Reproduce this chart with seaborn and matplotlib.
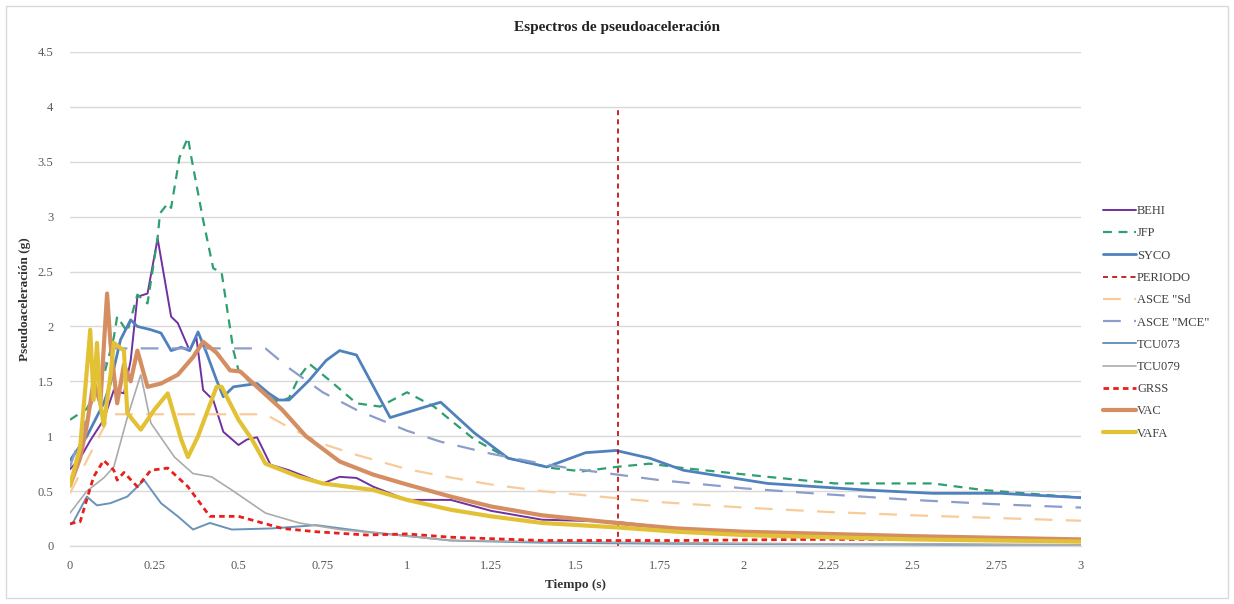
import matplotlib
matplotlib.use("Agg")
import matplotlib.pyplot as plt
import seaborn as sns
import numpy as np
from matplotlib.patches import Rectangle

# ---------------- data ----------------
BEHI_t = [0, 0.03, 0.06, 0.1, 0.13, 0.16, 0.18, 0.2, 0.23, 0.26, 0.3, 0.32, 0.355, 0.375, 0.395, 0.425, 0.455, 0.5, 0.525, 0.555, 0.595, 0.65, 0.75, 0.8, 0.85, 0.9, 1.0, 1.13, 1.25, 1.4, 1.62, 1.8, 2.0, 2.5, 3.0]
BEHI_v = [0.7, 0.8, 0.96, 1.15, 1.42, 1.39, 1.69, 2.27, 2.3, 2.8, 2.09, 2.03, 1.78, 1.9, 1.42, 1.33, 1.04, 0.92, 0.97, 0.99, 0.74, 0.69, 0.57, 0.63, 0.62, 0.54, 0.42, 0.42, 0.32, 0.24, 0.22, 0.16, 0.12, 0.07, 0.04]

JFP_t = [0, 0.05, 0.1, 0.13, 0.14, 0.17, 0.2, 0.23, 0.26, 0.267, 0.29, 0.30, 0.325, 0.35, 0.36, 0.395, 0.425, 0.45, 0.485, 0.5, 0.535, 0.59, 0.62, 0.65, 0.68, 0.71, 0.77, 0.85, 0.92, 1.0, 1.08, 1.2, 1.3, 1.43, 1.52, 1.62, 1.72, 1.82, 2.07, 2.27, 2.56, 2.71, 3.0]
JFP_v = [1.15, 1.25, 1.55, 1.9, 2.09, 1.95, 2.29, 2.21, 2.81, 3.03, 3.12, 3.08, 3.54, 3.72, 3.54, 2.97, 2.53, 2.49, 1.78, 1.6, 1.49, 1.36, 1.31, 1.35, 1.54, 1.66, 1.51, 1.30, 1.27, 1.40, 1.27, 0.97, 0.80, 0.71, 0.68, 0.72, 0.75, 0.71, 0.63, 0.57, 0.57, 0.51, 0.44]

SYCO_t = [0, 0.05, 0.1, 0.12, 0.15, 0.18, 0.2, 0.24, 0.27, 0.30, 0.33, 0.355, 0.38, 0.405, 0.435, 0.455, 0.485, 0.555, 0.59, 0.62, 0.65, 0.71, 0.76, 0.80, 0.85, 0.95, 1.10, 1.2, 1.3, 1.415, 1.53, 1.62, 1.72, 1.82, 2.07, 2.36, 2.56, 2.76, 3.0]
SYCO_v = [0.78, 1.0, 1.3, 1.48, 1.88, 2.06, 2.0, 1.97, 1.94, 1.78, 1.81, 1.78, 1.95, 1.76, 1.51, 1.36, 1.45, 1.48, 1.39, 1.33, 1.33, 1.51, 1.69, 1.78, 1.74, 1.17, 1.31, 1.03, 0.80, 0.72, 0.85, 0.87, 0.80, 0.69, 0.57, 0.51, 0.48, 0.48, 0.44]

PERIODO_t = [1.625, 1.625]
PERIODO_v = [0.0, 4.0]

ASCE_t = [0, 0.12, 0.58, 0.65, 0.75, 0.85, 1.0, 1.1, 1.25, 1.4, 1.5, 1.75, 2.0, 2.25, 2.5, 2.75, 3.0]
ASCE_SD_v = [0.48, 1.2, 1.2, 1.08, 0.93, 0.83, 0.7, 0.64, 0.56, 0.5, 0.47, 0.4, 0.35, 0.31, 0.28, 0.255, 0.23]
ASCE_MCE_v = [0.72, 1.8, 1.8, 1.62, 1.4, 1.24, 1.05, 0.95, 0.84, 0.75, 0.7, 0.6, 0.525, 0.47, 0.42, 0.38, 0.35]

TCU073_t = [0, 0.01, 0.05, 0.08, 0.12, 0.17, 0.22, 0.27, 0.32, 0.365, 0.415, 0.48, 0.6, 0.73, 0.88, 1.13, 1.4, 1.8, 2.2, 2.6, 3.0]
TCU073_v = [0.2, 0.22, 0.45, 0.37, 0.39, 0.45, 0.6, 0.39, 0.27, 0.15, 0.21, 0.15, 0.16, 0.19, 0.13, 0.05, 0.03, 0.02, 0.015, 0.01, 0.01]

TCU079_t = [0, 0.05, 0.1, 0.13, 0.17, 0.21, 0.24, 0.31, 0.365, 0.42, 0.48, 0.58, 0.68, 0.8, 1.0, 1.13, 1.4, 1.8, 2.2, 2.6, 3.0]
TCU079_v = [0.3, 0.5, 0.62, 0.72, 1.17, 1.56, 1.12, 0.81, 0.66, 0.63, 0.51, 0.30, 0.21, 0.15, 0.09, 0.05, 0.04, 0.03, 0.02, 0.02, 0.01]

GRSS_t = [0, 0.01, 0.03, 0.07, 0.1, 0.13, 0.14, 0.16, 0.2, 0.24, 0.29, 0.35, 0.415, 0.5, 0.63, 0.73, 0.88, 1.0, 1.13, 1.4, 1.8, 2.2, 2.6, 3.0]
GRSS_v = [0.2, 0.21, 0.22, 0.63, 0.78, 0.69, 0.60, 0.67, 0.54, 0.69, 0.71, 0.54, 0.27, 0.27, 0.16, 0.13, 0.10, 0.11, 0.08, 0.05, 0.05, 0.06, 0.06, 0.05]

VAC_t = [0, 0.03, 0.05, 0.07, 0.09, 0.11, 0.12, 0.14, 0.16, 0.18, 0.2, 0.23, 0.27, 0.32, 0.365, 0.395, 0.435, 0.475, 0.505, 0.555, 0.63, 0.7, 0.8, 0.9, 1.0, 1.13, 1.25, 1.4, 1.62, 1.8, 2.0, 2.5, 3.0]
VAC_v = [0.55, 0.8, 1.1, 1.5, 1.3, 2.3, 1.85, 1.3, 1.65, 1.5, 1.78, 1.45, 1.48, 1.56, 1.72, 1.86, 1.76, 1.6, 1.59, 1.45, 1.24, 1.0, 0.77, 0.65, 0.56, 0.45, 0.36, 0.28, 0.21, 0.16, 0.13, 0.09, 0.06]

VAFA_t = [0, 0.03, 0.05, 0.06, 0.07, 0.08, 0.09, 0.1, 0.12, 0.13, 0.16, 0.17, 0.21, 0.25, 0.29, 0.33, 0.35, 0.38, 0.435, 0.45, 0.5, 0.54, 0.58, 0.68, 0.75, 0.9, 1.0, 1.13, 1.25, 1.4, 1.62, 1.8, 2.0, 2.5, 3.0]
VAFA_v = [0.55, 0.9, 1.6, 1.97, 1.33, 1.85, 1.3, 1.1, 1.55, 1.85, 1.78, 1.21, 1.06, 1.24, 1.39, 0.97, 0.81, 1.0, 1.45, 1.45, 1.15, 0.97, 0.75, 0.63, 0.57, 0.51, 0.42, 0.33, 0.27, 0.21, 0.17, 0.13, 0.1, 0.06, 0.04]

x_ticks = [0, 0.25, 0.5, 0.75, 1, 1.25, 1.5, 1.75, 2, 2.25, 2.5, 2.75, 3]
x_tick_labels = ["0", "0.25", "0.5", "0.75", "1", "1.25", "1.5", "1.75", "2", "2.25", "2.5", "2.75", "3"]
y_ticks = [0, 0.5, 1, 1.5, 2, 2.5, 3, 3.5, 4, 4.5]
y_tick_labels = ["0", "0.5", "1", "1.5", "2", "2.5", "3", "3.5", "4", "4.5"]

title = "Espectros de pseudoaceleración"
x_label = "Tiempo (s)"
y_label = "Pseudoaceleración (g)"

# ---------------- styling ----------------
sns.set_theme(style="white")
plt.rcParams["font.family"] = ["Liberation Serif", "DejaVu Serif"]

fig = plt.figure(figsize=(12.34, 6.04), dpi=100)
ax = fig.add_axes([70 / 1234, 1 - 546 / 604, (1081 - 70) / 1234, (546 - 52) / 604])

series = [
    ("BEHI", BEHI_t, BEHI_v, dict(color="#7030A0", lw=1.4, ls="-")),
    ("JFP", JFP_t, JFP_v, dict(color="#2E9F6E", lw=1.6, ls=(0, (4, 3)))),
    ("SYCO", SYCO_t, SYCO_v, dict(color="#4F81BD", lw=2.0, ls="-")),
    ("PERIODO", PERIODO_t, PERIODO_v, dict(color="#C00000", lw=1.2, ls=(0, (3, 2.5)))),
    ('ASCE "Sd', ASCE_t, ASCE_SD_v, dict(color="#F8CB9A", lw=1.6, ls=(0, (8, 6)))),
    ('ASCE "MCE"', ASCE_t, ASCE_MCE_v, dict(color="#8D9DCB", lw=1.6, ls=(0, (8, 6)))),
    ("TCU073", TCU073_t, TCU073_v, dict(color="#6A93BA", lw=1.4, ls="-")),
    ("TCU079", TCU079_t, TCU079_v, dict(color="#ABABAB", lw=1.2, ls="-")),
    ("GRSS", GRSS_t, GRSS_v, dict(color="#E8201C", lw=2.0, ls=(0, (2, 1.5)))),
    ("VAC", VAC_t, VAC_v, dict(color="#D58E62", lw=3.0, ls="-")),
    ("VAFA", VAFA_t, VAFA_v, dict(color="#E2C234", lw=3.0, ls="-")),
]

for name, t, v, st in series:
    sns.lineplot(x=t, y=v, ax=ax, label=name, color=st["color"], linewidth=st["lw"],
                 linestyle=st["ls"], sort=False, estimator=None)

ax.set_xlim(0, 3)
ax.set_ylim(0, 4.5)
ax.set_xticks(x_ticks)
ax.set_xticklabels(x_tick_labels)
ax.set_yticks(y_ticks)
ax.set_yticklabels(y_tick_labels)
ax.tick_params(axis="y", labelsize=9, colors="#595959", length=0, pad=12)
ax.tick_params(axis="x", labelsize=9, colors="#595959", length=0, pad=10)
ax.yaxis.grid(True, color="#D9D9D9", linewidth=1.0)
ax.xaxis.grid(False)
ax.set_axisbelow(True)
for s in ["top", "right", "left"]:
    ax.spines[s].set_visible(False)
ax.spines["bottom"].set_color("#D9D9D9")
ax.spines["bottom"].set_linewidth(1.0)

ax.set_xlabel(x_label, fontsize=9.5, fontweight="bold", color="#333333", labelpad=5)
ax.set_ylabel(y_label, fontsize=9.5, fontweight="bold", color="#333333", labelpad=5)
fig.text(0.5, 1 - 28 / 604, title, ha="center", va="center", fontsize=11,
         fontweight="bold", color="#222222")

handles, labels = ax.get_legend_handles_labels()
ax.get_legend().remove()
fig.legend(handles, labels, loc="upper left", bbox_to_anchor=(1092 / 1234, 1 - 194 / 604),
           frameon=False, fontsize=9, handlelength=2.6, handletextpad=0.1,
           labelspacing=0.82, labelcolor="#404040")

fig.patches.append(Rectangle((6 / 1234, 6 / 604), 1 - 12 / 1234, 1 - 12 / 604,
                             transform=fig.transFigure, fill=False,
                             edgecolor="#D9D9D9", linewidth=1.0))

fig.savefig("out.png", dpi=100)
